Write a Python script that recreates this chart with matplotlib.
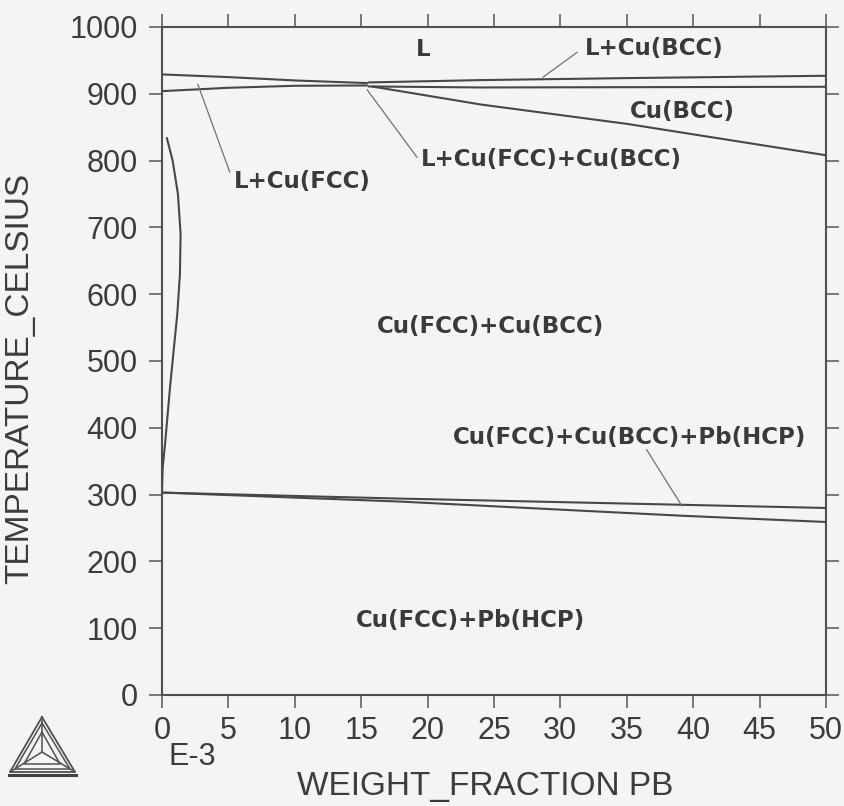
import matplotlib
matplotlib.use("Agg")
import matplotlib.pyplot as plt
from matplotlib.lines import Line2D

# ---- phase boundaries (weight fraction Pb x 1e-3, temperature in Celsius) ----
liq_fcc_x = [0.0, 5.0, 10.0, 15.5]
liq_fcc_t = [929, 925, 920, 916]

sol_fcc_x = [0.0, 5.0, 10.0, 15.5]
sol_fcc_t = [904, 909, 912, 912.5]

liq_bcc_x = [15.5, 24.0, 35.0, 50.0]
liq_bcc_t = [917, 920.5, 923.5, 927]

sol_bcc_x = [15.5, 24.0, 50.0]
sol_bcc_t = [911, 909.5, 910.5]

bcc_solvus_x = [15.8, 24.0, 35.0, 50.0]
bcc_solvus_t = [911, 884, 855, 808]

fcc_solvus_x = [0.35, 0.8, 1.2, 1.4, 1.35, 1.15, 0.95, 0.6, 0.25, 0.05, 0.0]
fcc_solvus_t = [835, 800, 750, 690, 630, 570, 530, 460, 380, 340, 305]

hcp_upper_x = [0.0, 18.0, 50.0]
hcp_upper_t = [303, 294, 280]

hcp_lower_x = [0.0, 18.0, 39.0, 50.0]
hcp_lower_t = [303, 289.5, 268.5, 259]

# ---- axis ticks ----
x_ticks = [0, 5, 10, 15, 20, 25, 30, 35, 40, 45, 50]
y_ticks = [0, 100, 200, 300, 400, 500, 600, 700, 800, 900, 1000]

# ---- region labels: text, label position, leader-line end (None = no leader) ----
region_text = ["L", "L+Cu(BCC)", "Cu(BCC)", "L+Cu(FCC)+Cu(BCC)", "L+Cu(FCC)",
               "Cu(FCC)+Cu(BCC)", "Cu(FCC)+Cu(BCC)+Pb(HCP)", "Cu(FCC)+Pb(HCP)"]
region_pos = [(19.65, 966), (37.05, 968), (39.2, 874), (29.3, 801), (10.6, 769),
              (24.7, 552), (35.2, 386), (23.2, 112)]
leader_from = [None, (31.25, 962), None, (19.2, 805), (5.1, 783),
               None, (36.5, 367), None]
leader_to = [None, (28.7, 925), None, (15.45, 906), (2.7, 914),
             None, (39.15, 283), None]

BG = "#f4f4f4"
LINE = "#474747"
TXT = "#3a3a3a"

fig = plt.figure(figsize=(8.44, 8.06), dpi=100, facecolor=BG)
W, H = 844, 806
ax = fig.add_axes([162 / W, 1 - 695 / H, (826 - 162) / W, (695 - 27) / H])
ax.set_facecolor(BG)
ax.set_xlim(0, 50)
ax.set_ylim(0, 1000)

for sp in ax.spines.values():
    sp.set_color("#505050")
    sp.set_linewidth(1.5)

tick_font = {"family": ["Liberation Sans", "DejaVu Sans"], "size": 22}
ax.set_xticks(x_ticks)
ax.set_yticks(y_ticks)
ax.set_xticklabels([str(v) for v in x_ticks], fontdict=tick_font, color="#3c3c3c")
ax.set_yticklabels([str(v) for v in y_ticks], fontdict=tick_font, color="#3c3c3c")
ax.tick_params(axis="both", direction="out", length=9.5, width=1.1, colors="#555555",
               top=True, right=True, labeltop=False, labelright=False)
ax.tick_params(axis="x", pad=5.5, labelcolor="#3c3c3c")
ax.tick_params(axis="y", pad=8, labelcolor="#3c3c3c")

line_kw = dict(color=LINE, lw=1.5, solid_capstyle="butt", zorder=3)
for xs, ts in [(liq_fcc_x, liq_fcc_t), (sol_fcc_x, sol_fcc_t),
               (liq_bcc_x, liq_bcc_t), (sol_bcc_x, sol_bcc_t),
               (bcc_solvus_x, bcc_solvus_t), (fcc_solvus_x, fcc_solvus_t),
               (hcp_upper_x, hcp_upper_t), (hcp_lower_x, hcp_lower_t)]:
    ax.plot(xs, ts, **line_kw)

for txt, pos, p0, p1 in zip(region_text, region_pos, leader_from, leader_to):
    ax.text(pos[0], pos[1], txt, ha="center", va="center", fontsize=16.5,
            fontweight="bold", family="DejaVu Sans", color=TXT, zorder=5)
    if p0 is not None:
        ax.plot([p0[0], p1[0]], [p0[1], p1[1]], color="#707070", lw=0.9, zorder=4)

label_font = dict(family=["Liberation Sans", "DejaVu Sans"], fontsize=24, color="#3c3c3c")
fig.text(485 / W, 1 - 786 / H, "WEIGHT_FRACTION PB", ha="center", va="center", **label_font)
fig.text(20 / W, 1 - 378 / H, "TEMPERATURE_CELSIUS", ha="center", va="center",
         rotation=90, **label_font)
fig.text(192 / W, 1 - 757 / H, "E-3", ha="center", va="center",
         family=["Liberation Sans", "DejaVu Sans"], fontsize=22, color="#3c3c3c")

# ---- logo drawn in pixel coordinates on a transparent overlay ----
ov = fig.add_axes([0, 0, 1, 1], zorder=10)
ov.set_xlim(0, W)
ov.set_ylim(H, 0)
ov.axis("off")
ov.patch.set_alpha(0)
cx, cy = 42, 752
outer = [(42, 717), (10, 772), (75, 772), (42, 717)]
mid = [(42, 723), (15, 769), (70, 769), (42, 723)]
inner = [(42, 732), (24, 764), (60, 764), (42, 732)]
for tri, lw in [(outer, 1.3), (mid, 1.1), (inner, 1.1)]:
    ov.add_line(Line2D([p[0] for p in tri], [p[1] for p in tri], color="#505050", lw=lw))
for vx, vy in [(42, 717), (10, 772), (75, 772)]:
    ov.add_line(Line2D([cx, vx], [cy, vy], color="#505050", lw=1.1))
ov.add_line(Line2D([9, 76], [775, 775], color="#404040", lw=2.2))

fig.savefig("out.png", dpi=100, facecolor=BG)
